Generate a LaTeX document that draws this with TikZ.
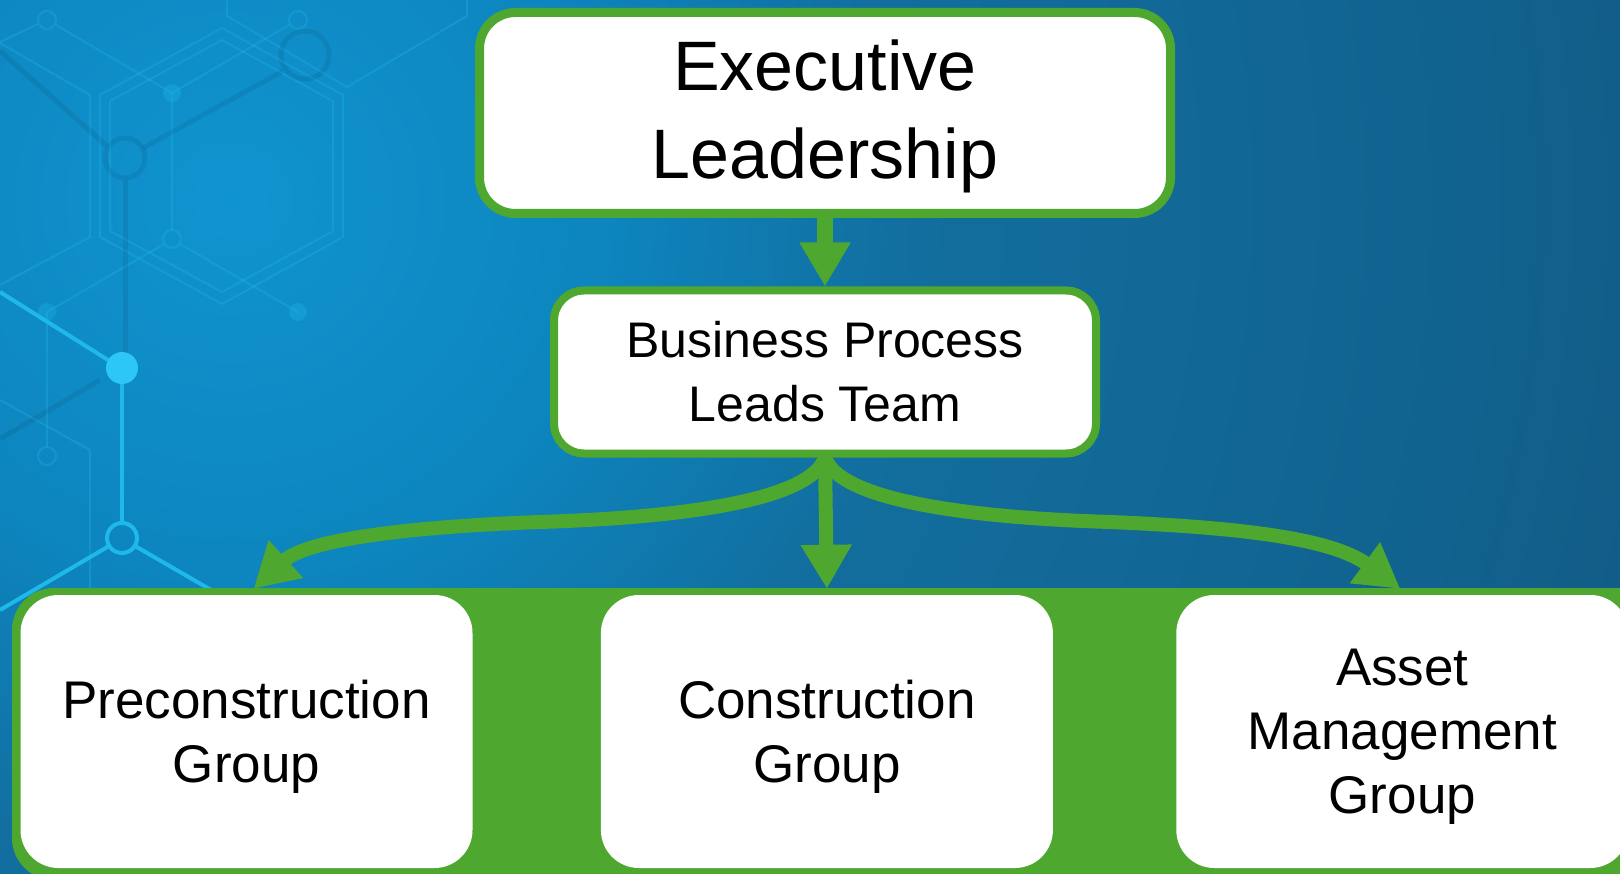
\documentclass[tikz,border=0pt]{standalone}
\usepackage{fontspec}
\setmainfont{Liberation Sans}
\usepackage{tikz}
\usetikzlibrary{arrows.meta}
\usetikzlibrary{positioning}
\definecolor{grn}{RGB}{78,167,46}
\definecolor{bglight}{RGB}{16,148,208}
\definecolor{bgmida}{RGB}{13,133,190}
\definecolor{bgmidb}{RGB}{18,110,158}
\definecolor{bgmidc}{RGB}{17,98,142}
\definecolor{bgdark}{RGB}{21,84,126}
\definecolor{cyanline}{RGB}{31,184,234}
\definecolor{cyandot}{RGB}{46,198,246}
\pgfdeclareradialshading{bgglow}{\pgfpoint{0bp}{0bp}}{color(0bp)=(bglight);
	color(5.4bp)=(bgmida); color(9.8bp)=(bgmidb); color(17.9bp)=(bgmidc);
	color(25bp)=(bgdark); color(50bp)=(bgdark)}

\begin{document}
\begin{tikzpicture}[x=1pt,y=-1pt,>={Triangle[width=48pt,length=44pt]},
		line join=round]
		\tikzstyle{flow}=[->,draw=grn,line width=14pt]
		\tikzstyle{topbox}=[draw=grn,line width=9pt,fill=white,rounded corners=36pt,align=center,text=black]
		\tikzstyle{groupbox}=[fill=white,rounded corners=38pt,align=center,text=black,text depth=-4pt,
			minimum width=452pt,minimum height=273pt,font=\fontsize{53}{64}\selectfont]
		\tikzstyle{faint}=[draw=cyanline,opacity=0.3,line width=2pt]
		\tikzstyle{shadow line}=[draw=black,opacity=0.07,line width=5pt]
		\tikzstyle{bright}=[draw=cyanline,line width=4pt]
		
		% background
		\useasboundingbox (0,0) rectangle (1620,874);
		\fill[bgdark] (0,0) rectangle (1620,874);
		\begin{scope}
			\clip (0,0) rectangle (1620,874);
			\shade[shading=bgglow] (230,200) circle[radius=1750pt];
			
			% hexagon network
			\draw[faint] (222,28) -- (343,95) -- (343,237) -- (222,304) -- (100,237) -- (100,95) -- cycle;
			\draw[faint] (222,40) -- (333,101) -- (333,231) -- (222,292) -- (110,231) -- (110,101) -- cycle;
			\draw[faint] (90,95) -- (90,237) -- (0,285);
			\draw[faint] (90,95) -- (0,43);
			\draw[faint] (227,0) -- (227,16) -- (347,87) -- (467,16) -- (467,0);
			\draw[faint] (0,42) -- (38,24);
			\draw[faint] (56,25) -- (172,93) -- (289,25);
			\draw[faint] (172,93) -- (172,230);
			\draw[faint] (164,244) -- (47,312) (180,244) -- (298,312);
			\draw[faint] (47,312) -- (47,447);
			\draw[faint] (0,400) -- (90,450) -- (90,600);
			\draw[faint] (47,20) circle[radius=9pt] (298,20) circle[radius=9pt]
				(172,239) circle[radius=9pt] (47,456) circle[radius=9pt];
			\fill[cyanline,opacity=0.3] (172,93) circle[radius=9pt] (47,312) circle[radius=9pt]
				(298,312) circle[radius=9pt];
			\draw[shadow line] (125,158) circle[radius=20pt] (305,55) circle[radius=24pt];
			\draw[shadow line] (143,148) -- (283,71);
			\draw[shadow line] (125,180) -- (125,356);
			\draw[shadow line] (0,51) -- (107,146);
			\draw[shadow line] (0,439) -- (100,380);
			
			% bright links
			\draw[bright] (0,292) -- (108,360);
			\fill[cyandot] (122,368) circle[radius=16pt];
			\draw[bright] (122,384) -- (122,522);
			\draw[bright] (122,538) circle[radius=15pt];
			\draw[bright] (109,546) -- (0,610);
			\draw[bright] (135,546) -- (225,598);
			
			% green band behind the groups
			\fill[grn,rounded corners=42pt] (12,588) rectangle (1660,880);
		\end{scope}
		
		\node[topbox,minimum width=691pt,minimum height=201pt,text depth=8pt,
			font=\fontsize{70}{88}\selectfont] (exec) at (825,113) {Executive\\Leadership};
		\node[topbox,line width=8pt,rounded corners=30pt,minimum width=542pt,minimum height=163pt,
			font=\fontsize{50}{64}\selectfont] (bp) at (825,372) {Business Process\\Leads Team};
		
		\node[groupbox] (pre) at (246.5,731.5) {Preconstruction\\Group};
		\node[groupbox] (con) [right=128pt of pre] {Construction\\Group};
		\node[groupbox] (asset) [right=123pt of con] {Asset\\Management\\Group};
		
		\draw[flow,line width=16pt] (exec) -- (bp);
		\draw[flow] (bp.south) -- ([yshift=6pt]con.north);
		\draw[flow] (bp.south) .. controls (812,497) and (700,517) .. (540,522)
			.. controls (430,526) and (310,537) .. ([xshift=7pt,yshift=6pt]pre.north);
		\draw[flow] (bp.south) .. controls (838,497) and (950,517) .. (1110,522)
			.. controls (1230,527) and (1330,537) .. ([xshift=-2pt,yshift=6pt]asset.north);
\end{tikzpicture}
\end{document}
